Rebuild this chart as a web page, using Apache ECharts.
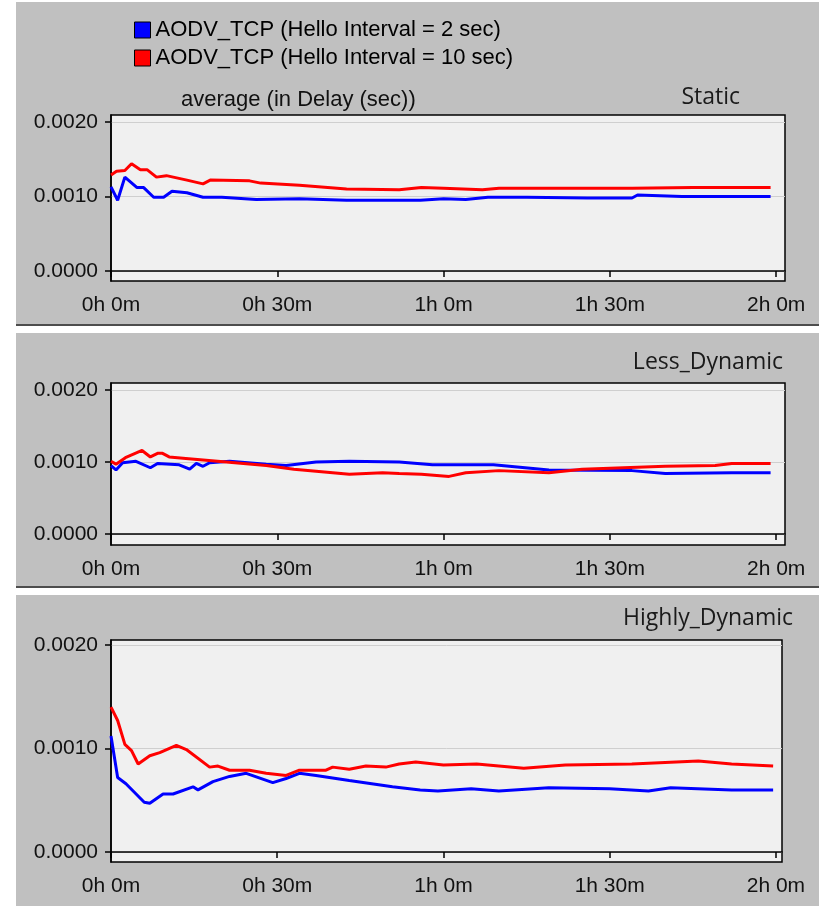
<!DOCTYPE html>
<html lang="en">
<head>
    <meta charset="UTF-8">
    <title>AODV_TCP average delay</title>
    <script src="https://cdn.jsdelivr.net/npm/echarts@6/dist/echarts.min.js"></script>
</head>
<body style="margin:0;background:#fff">
<div id="main" style="width:819px;height:906px"></div>
<script>
    // legend names
    var names = ['AODV_TCP (Hello Interval = 2 sec)', 'AODV_TCP (Hello Interval = 10 sec)'];
    var panelTitles = ['Static', 'Less_Dynamic', 'Highly_Dynamic'];
    var xTicks = [0, 30, 60, 90, 120];          // minutes
    var yTicks = [0, 0.001, 0.002];

    // Static
    var staticT2 = [0, 1.2, 2.5, 4.7, 5.9, 7.7, 9.5, 11, 13.7, 16.6, 20, 26.2, 34, 42.5, 50, 55.8, 60, 64, 68, 75, 86, 94, 95, 103, 110, 119];
    var staticV2 = [0.00113, 0.00095, 0.00126, 0.00112, 0.00112, 0.00099, 0.00099, 0.00107, 0.00105, 0.00099, 0.00099, 0.00096, 0.00097, 0.00095, 0.00095, 0.00095, 0.00097, 0.00096, 0.00099, 0.00099, 0.00098, 0.00098, 0.00102, 0.00100, 0.00100, 0.00100];
    var staticT10 = [0, 1, 2.5, 3.7, 5.3, 6.5, 8.2, 10, 13.7, 16.6, 17.9, 25, 27, 34, 42.5, 52, 56, 60, 67, 70, 82, 94, 105, 112, 119];
    var staticV10 = [0.00129, 0.00134, 0.00135, 0.00144, 0.00136, 0.00136, 0.00126, 0.00128, 0.00122, 0.00117, 0.00122, 0.00121, 0.00118, 0.00115, 0.00110, 0.00109, 0.00112, 0.00111, 0.00109, 0.00111, 0.00111, 0.00111, 0.00112, 0.00112, 0.00112];

    // Less_Dynamic
    var lessT2 = [0, 0.9, 2.1, 4.5, 7.1, 8.4, 12.3, 14.2, 15.4, 16.6, 17.8, 21.4, 28, 31.6, 37, 43, 52, 58, 69, 79, 94, 100, 112, 119];
    var lessV2 = [0.00095, 0.00089, 0.00099, 0.00101, 0.00092, 0.00098, 0.00096, 0.00090, 0.00098, 0.00094, 0.00099, 0.00101, 0.00097, 0.00095, 0.00100, 0.00101, 0.00100, 0.00096, 0.00096, 0.00089, 0.00088, 0.00084, 0.00085, 0.00085];
    var lessT10 = [0, 0.9, 2.6, 5.6, 7.1, 8.4, 9.3, 10.5, 13.5, 20.8, 28, 33, 43, 49, 52, 56, 61, 64, 70, 79, 85, 100, 109, 112, 119];
    var lessV10 = [0.00101, 0.00097, 0.00106, 0.00116, 0.00107, 0.00112, 0.00112, 0.00107, 0.00105, 0.00100, 0.00095, 0.00090, 0.00083, 0.00085, 0.00084, 0.00083, 0.00080, 0.00085, 0.00088, 0.00085, 0.00090, 0.00094, 0.00095, 0.00098, 0.00098];

    // Highly_Dynamic
    var highT2 = [0, 1.2, 2.7, 6, 7, 9.4, 11.2, 14.8, 15.7, 18.4, 21.4, 24.4, 29.2, 31.6, 34, 37, 43, 50.8, 55.8, 59, 65, 70, 79, 90, 97, 101, 112, 119.5];
    var highV2 = [0.00112, 0.00072, 0.00066, 0.00048, 0.00047, 0.00056, 0.00056, 0.00063, 0.00060, 0.00068, 0.00073, 0.00076, 0.00067, 0.00071, 0.00076, 0.00074, 0.00069, 0.00063, 0.00060, 0.00059, 0.00061, 0.00059, 0.00062, 0.00061, 0.00059, 0.00062, 0.00060, 0.00060];
    var highT10 = [0, 1.2, 2.5, 3.7, 4.9, 7, 8.8, 11.8, 13.6, 17.8, 19.3, 21.4, 25, 28, 31.6, 34, 38.8, 40, 43, 46, 49.6, 52, 55, 60, 66, 74.5, 82, 94, 106, 112, 119.5];
    var highV10 = [0.00140, 0.00127, 0.00104, 0.00098, 0.00085, 0.00093, 0.00096, 0.00103, 0.00099, 0.00082, 0.00083, 0.00079, 0.00079, 0.00076, 0.00074, 0.00079, 0.00079, 0.00082, 0.00080, 0.00083, 0.00082, 0.00085, 0.00087, 0.00084, 0.00085, 0.00081, 0.00084, 0.00085, 0.00088, 0.00085, 0.00083];

    function zip(t, v) {
        return t.map(function (x, i) { return [x, v[i]]; });
    }

    var font = 'Liberation Sans, Arial, sans-serif';
    var panels = [
        {grid: {left: 111, top: 115, width: 674, height: 166}, xMax: 121.6, yMin: -0.000134, yMax: 0.002094,
            data: [zip(staticT2, staticV2), zip(staticT10, staticV10)]},
        {grid: {left: 111, top: 383, width: 674, height: 162}, xMax: 121.6, yMin: -0.000153, yMax: 0.002097,
            data: [zip(lessT2, lessV2), zip(lessT10, lessV10)]},
        {grid: {left: 111, top: 640, width: 671, height: 222}, xMax: 121.1, yMin: -0.0000966, yMax: 0.002048,
            data: [zip(highT2, highV2), zip(highT10, highV10)]}
    ];
    var colors = ['#0000ff', '#ff0000'];

    var grids = [], xAxes = [], yAxes = [], series = [];
    panels.forEach(function (p, i) {
        grids.push(Object.assign({show: true, backgroundColor: '#f0f0f0', borderColor: '#000', borderWidth: 1.5}, p.grid));
        xAxes.push({
            type: 'value', gridIndex: i, min: 0, max: p.xMax,
            axisLine: {show: true, lineStyle: {color: '#000', width: 1.5}},
            axisTick: {show: true, length: 6, customValues: xTicks, lineStyle: {color: '#000', width: 1.5}},
            axisLabel: {customValues: xTicks, margin: 14, fontSize: 21, fontFamily: font, color: '#111',
                formatter: function (v) { return Math.floor(v / 60) + 'h ' + (v % 60) + 'm'; }},
            splitLine: {show: false}
        });
        yAxes.push({
            type: 'value', gridIndex: i, min: p.yMin, max: p.yMax,
            axisLine: {show: true, lineStyle: {color: '#000', width: 1.5}},
            axisTick: {show: true, length: 6, customValues: yTicks, lineStyle: {color: '#000', width: 1.5}},
            axisLabel: {customValues: yTicks, margin: 13, fontSize: 21, fontFamily: font, color: '#111',
                formatter: function (v) { return v.toFixed(4); }},
            splitLine: {show: true, lineStyle: {color: '#cfcfcf', width: 1}}
        });
        p.data.forEach(function (d, k) {
            series.push({
                name: names[k], type: 'line', xAxisIndex: i, yAxisIndex: i,
                data: d, showSymbol: false, symbol: 'none',
                lineStyle: {color: colors[k], width: 3},
                itemStyle: {color: colors[k]}
            });
        });
    });

    var titleFont = '23px Open Sans';
    var chart = echarts.init(document.getElementById('main'));
    chart.setOption({
        animation: false,
        backgroundColor: '#fff',
        graphic: [
            {type: 'rect', z: -10, shape: {x: 16, y: 2, width: 803, height: 322}, style: {fill: '#c0c0c0'}},
            {type: 'rect', z: -10, shape: {x: 16, y: 324, width: 803, height: 2}, style: {fill: '#4d4d4d'}},
            {type: 'rect', z: -10, shape: {x: 16, y: 333, width: 803, height: 253}, style: {fill: '#c0c0c0'}},
            {type: 'rect', z: -10, shape: {x: 16, y: 586, width: 803, height: 2}, style: {fill: '#4d4d4d'}},
            {type: 'rect', z: -10, shape: {x: 16, y: 595, width: 803, height: 311}, style: {fill: '#c0c0c0'}},
            {type: 'text', x: 181, y: 100, style: {text: 'average (in Delay (sec))', font: '22px ' + font, fill: '#111', textVerticalAlign: 'middle'}},
            {type: 'text', x: 740, y: 97, style: {text: panelTitles[0], font: titleFont, fill: '#1a1a1a', textAlign: 'right', textVerticalAlign: 'middle'}},
            {type: 'text', x: 783, y: 362, style: {text: panelTitles[1], font: titleFont, fill: '#1a1a1a', textAlign: 'right', textVerticalAlign: 'middle'}},
            {type: 'text', x: 793, y: 618, style: {text: panelTitles[2], font: titleFont, fill: '#1a1a1a', textAlign: 'right', textVerticalAlign: 'middle'}}
        ],
        legend: {
            orient: 'vertical', left: 134, top: 19, padding: 0,
            itemWidth: 16, itemHeight: 16, itemGap: 6, icon: 'rect',
            itemStyle: {borderColor: '#000', borderWidth: 1},
            textStyle: {fontSize: 22, fontFamily: font, color: '#000'},
            data: names
        },
        grid: grids,
        xAxis: xAxes,
        yAxis: yAxes,
        series: series
    });
</script>
</body>
</html>
